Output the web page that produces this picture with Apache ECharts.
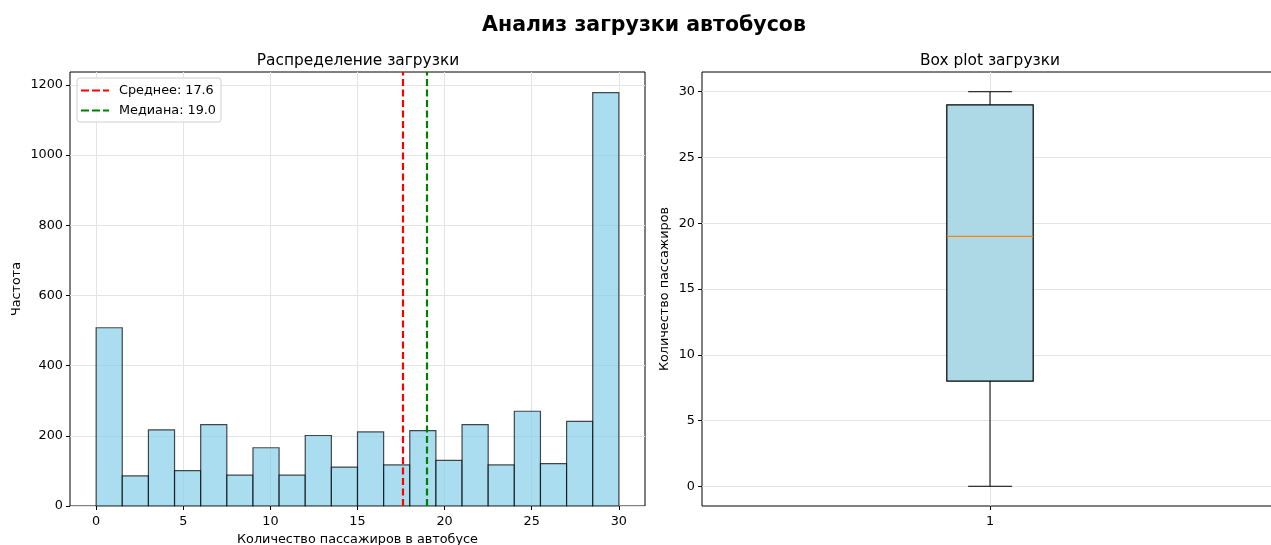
<!DOCTYPE html>
<html>
<head>
<meta charset="utf-8">
<script src="https://cdn.jsdelivr.net/npm/echarts@6/dist/echarts.min.js"></script>
<style>
  html, body { margin: 0; padding: 0; background: #fff; }
  #chart { width: 1271px; height: 545px; }
</style>
</head>
<body>
<div id="chart"></div>
<script>
// Histogram of bus loading: bin edges and counts
const binStarts = [0, 1.5, 3, 4.5, 6, 7.5, 9, 10.5, 12, 13.5, 15, 16.5, 18, 19.5, 21, 22.5, 24, 25.5, 27, 28.5];
const binWidth = 1.5;
const binCounts = [508, 86, 217, 101, 232, 88, 166, 88, 201, 111, 211, 117, 215, 130, 232, 117, 270, 121, 241, 1178];

// Summary statistics
const meanValue = 17.6;
const medianValue = 19.0;

// Box plot five-number summary: [min, Q1, median, Q3, max]
const boxStats = [0, 8, 19, 29, 30];
const boxCategory = 1;

// Tick labels
const histXTicks = [0, 5, 10, 15, 20, 25, 30];
const histYTicks = [0, 200, 400, 600, 800, 1000, 1200];
const boxYTicks = [0, 5, 10, 15, 20, 25, 30];

const FONT = 'DejaVu Sans';
const TICK_FS = 12.8;
const gridLine = { show: true, lineStyle: { color: '#e4e4e4', width: 1 } };
const tickStyle = { show: true, inside: false, length: 4, lineStyle: { color: '#000', width: 1 } };
const labelStyle = { color: '#000', fontFamily: FONT, fontSize: TICK_FS, formatter: v => String(v) };
const noLine = { show: false, onZero: false };

const histData = binStarts.map((s, i) => [s, s + binWidth, binCounts[i]]);

// dashed line icon for the legend entries
const dashIcon = 'path://M0,0h8v2.2h-8zM11,0h8v2.2h-8zM22,0h6v2.2h-6z';

const chart = echarts.init(document.getElementById('chart'));
chart.setOption({
  animation: false,
  backgroundColor: '#fff',
  textStyle: { fontFamily: FONT },
  title: [
    { text: 'Анализ загрузки автобусов', left: 639, top: 10, textAlign: 'center',
      textStyle: { fontFamily: FONT, fontSize: 20.5, fontWeight: 'bold', color: '#000' } },
    { text: 'Распределение загрузки', left: 353, top: 48, textAlign: 'center',
      textStyle: { fontFamily: FONT, fontSize: 15.4, fontWeight: 'normal', color: '#000' } },
    { text: 'Box plot загрузки', left: 985, top: 48, textAlign: 'center',
      textStyle: { fontFamily: FONT, fontSize: 15.4, fontWeight: 'normal', color: '#000' } }
  ],
  legend: {
    data: [
      { name: 'Среднее: ' + meanValue.toFixed(1), icon: dashIcon },
      { name: 'Медиана: ' + medianValue.toFixed(1), icon: dashIcon }
    ],
    orient: 'vertical', left: 77, top: 78,
    backgroundColor: 'rgba(255,255,255,0.8)', borderColor: '#d0d0d0', borderWidth: 1, borderRadius: 3,
    padding: [6, 5, 5, 4], itemGap: 7, itemWidth: 28, itemHeight: 2.2,
    textStyle: { fontFamily: FONT, fontSize: 12.8, color: '#000', padding: [0, 0, 0, 5] }
  },
  grid: [
    { left: 70, top: 72, width: 575, height: 434, outerBoundsMode: 'none', containLabel: false,
      show: true, borderColor: '#000', borderWidth: 1, backgroundColor: 'transparent' },
    { left: 702, top: 72, width: 576, height: 434, outerBoundsMode: 'none', containLabel: false,
      show: true, borderColor: '#000', borderWidth: 1, backgroundColor: 'transparent' }
  ],
  xAxis: [
    { type: 'value', gridIndex: 0, min: -1.5, max: 31.5,
      name: 'Количество пассажиров в автобусе', nameLocation: 'middle', nameGap: 27,
      nameTextStyle: { fontFamily: FONT, fontSize: 12.8, color: '#000' },
      axisLine: noLine,
      axisTick: Object.assign({ customValues: histXTicks }, tickStyle),
      axisLabel: Object.assign({ customValues: histXTicks, margin: 9 }, labelStyle),
      splitLine: gridLine },
    { type: 'value', gridIndex: 1, min: 0.5, max: 1.5,
      axisLine: noLine,
      axisTick: Object.assign({ customValues: [boxCategory] }, tickStyle),
      axisLabel: Object.assign({ customValues: [boxCategory], margin: 9 }, labelStyle),
      splitLine: gridLine }
  ],
  yAxis: [
    { type: 'value', gridIndex: 0, min: 0, max: 1237,
      name: 'Частота', nameLocation: 'middle', nameGap: 47,
      nameTextStyle: { fontFamily: FONT, fontSize: 12.8, color: '#000' },
      axisLine: noLine,
      axisTick: Object.assign({ customValues: histYTicks }, tickStyle),
      axisLabel: Object.assign({ customValues: histYTicks, margin: 7 }, labelStyle),
      splitLine: gridLine },
    { type: 'value', gridIndex: 1, min: -1.5, max: 31.5,
      name: 'Количество пассажиров', nameLocation: 'middle', nameGap: 31,
      nameTextStyle: { fontFamily: FONT, fontSize: 12.8, color: '#000' },
      axisLine: noLine,
      axisTick: Object.assign({ customValues: boxYTicks }, tickStyle),
      axisLabel: Object.assign({ customValues: boxYTicks, margin: 7 }, labelStyle),
      splitLine: gridLine }
  ],
  series: [
    {
      type: 'custom', name: 'hist', xAxisIndex: 0, yAxisIndex: 0, z: 2,
      data: histData,
      renderItem: function (params, api) {
        const p0 = api.coord([api.value(0), 0]);
        const p1 = api.coord([api.value(1), api.value(2)]);
        return {
          type: 'rect',
          shape: { x: p0[0], y: p1[1], width: p1[0] - p0[0], height: p0[1] - p1[1] },
          style: { fill: 'rgba(135,206,235,0.7)', stroke: 'rgba(0,0,0,0.7)', lineWidth: 1.2 }
        };
      }
    },
    {
      type: 'line', name: 'Среднее: ' + meanValue.toFixed(1), xAxisIndex: 0, yAxisIndex: 0, z: 3,
      data: [], symbol: 'none', color: '#ff0000',
      lineStyle: { color: '#ff0000', width: 2.2, type: [7, 3.5] },
      markLine: { silent: true, symbol: 'none', label: { show: false },
        lineStyle: { color: '#ff0000', width: 2.2, type: [7, 3.5] },
        data: [{ xAxis: meanValue }] }
    },
    {
      type: 'line', name: 'Медиана: ' + medianValue.toFixed(1), xAxisIndex: 0, yAxisIndex: 0, z: 3,
      data: [], symbol: 'none', color: '#008000',
      lineStyle: { color: '#008000', width: 2.2, type: [7, 3.5] },
      markLine: { silent: true, symbol: 'none', label: { show: false },
        lineStyle: { color: '#008000', width: 2.2, type: [7, 3.5] },
        data: [{ xAxis: medianValue }] }
    },
    {
      type: 'custom', name: 'box', xAxisIndex: 1, yAxisIndex: 1, z: 2,
      data: [[boxCategory].concat(boxStats)],
      renderItem: function (params, api) {
        const x = api.value(0);
        const halfBox = 0.075, halfCap = 0.038;
        const c = (xx, yy) => api.coord([xx, yy]);
        const lo = c(x, api.value(1)), q1 = c(x, api.value(2)), med = api.value(3);
        const q3 = c(x, api.value(4)), hi = c(x, api.value(5));
        const bl = c(x - halfBox, api.value(4)), br = c(x + halfBox, api.value(2));
        const capL = c(x - halfCap, 0)[0], capR = c(x + halfCap, 0)[0];
        const mL = c(x - halfBox, med), mR = c(x + halfBox, med);
        const black = { stroke: '#000', lineWidth: 1 };
        return {
          type: 'group',
          children: [
            { type: 'line', shape: { x1: lo[0], y1: lo[1], x2: q1[0], y2: q1[1] }, style: black },
            { type: 'line', shape: { x1: q3[0], y1: q3[1], x2: hi[0], y2: hi[1] }, style: black },
            { type: 'line', shape: { x1: capL, y1: lo[1], x2: capR, y2: lo[1] }, style: black },
            { type: 'line', shape: { x1: capL, y1: hi[1], x2: capR, y2: hi[1] }, style: black },
            { type: 'rect', shape: { x: bl[0], y: bl[1], width: br[0] - bl[0], height: br[1] - bl[1] },
              style: { fill: '#add8e6', stroke: '#000', lineWidth: 1.2 } },
            { type: 'line', shape: { x1: mL[0], y1: mL[1], x2: mR[0], y2: mR[1] },
              style: { stroke: '#ff7f0e', lineWidth: 1.3 } }
          ]
        };
      }
    }
  ]
});
</script>
</body>
</html>
